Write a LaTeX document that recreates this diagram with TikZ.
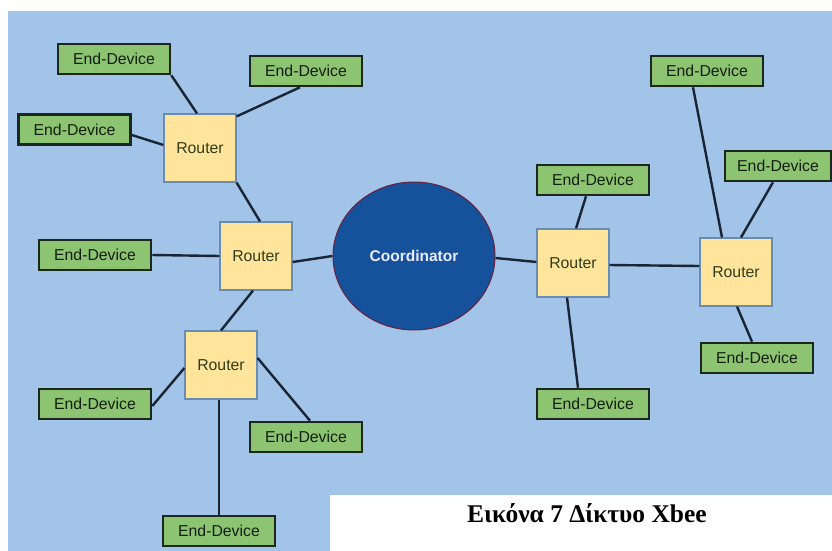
\documentclass[tikz,border=0pt]{standalone}
\usepackage{fontspec}
\setmainfont{Liberation Sans}
\newfontfamily\captionserif{Liberation Serif}
\usetikzlibrary{shapes.geometric}

\definecolor{skyback}{RGB}{161,196,232}
\definecolor{edfill}{RGB}{140,196,114}
\definecolor{edline}{RGB}{28,40,30}
\definecolor{edtext}{RGB}{20,30,16}
\definecolor{rtfill}{RGB}{255,228,156}
\definecolor{rtline}{RGB}{104,140,178}
\definecolor{rttext}{RGB}{48,60,26}
\definecolor{coordfill}{RGB}{22,82,156}
\definecolor{coordline}{RGB}{110,30,60}
\definecolor{linkcol}{RGB}{26,36,50}

\tikzset{
  enddev/.style={rectangle, draw=edline, line width=2.6pt, fill=edfill,
    minimum width=112pt, minimum height=30pt, inner sep=0pt,
    font=\fontsize{15.8}{15.8}\selectfont, text=edtext},
  routerbox/.style={rectangle, draw=rtline, line width=1.2pt, fill=rtfill,
    minimum width=72pt, minimum height=68pt, inner sep=0pt,
    font=\fontsize{15.8}{15.8}\selectfont, text=rttext},
  coordnode/.style={ellipse, draw=coordline, line width=1pt, fill=coordfill,
    minimum width=162pt, minimum height=148pt, inner sep=0pt,
    font=\bfseries\fontsize{15.5}{15.5}\selectfont, text=white!92!blue},
  link/.style={draw=linkcol, line width=2.4pt},
}

\begin{document}
\begin{tikzpicture}[x=1pt, y=-1pt]
  \useasboundingbox (0,0) rectangle (832,551);
  \fill[white] (0,0) rectangle (832,551);
  \fill[skyback] (8,11) rectangle (832,551);
  \fill[white] (330,495) rectangle (832,551);

  % coordinator
  \node[coordnode] (coord) at (414,256) {Coordinator};

  % routers
  \node[routerbox] (r1) at (200,148) {Router};
  \node[routerbox] (r2) at (256,256) {Router};
  \node[routerbox] (r3) at (221,365) {Router};
  \node[routerbox] (r4) at (573,263) {Router};
  \node[routerbox] (r5) at (736,272) {Router};

  % end devices
  \node[enddev] (ed1) at (114,59) {End-Device};
  \node[enddev] (ed2) at (306,71) {End-Device};
  \node[enddev] (ed3) at (74.5,129.5) {End-Device};
  \node[enddev] (ed4) at (95,255) {End-Device};
  \node[enddev] (ed5) at (95,404) {End-Device};
  \node[enddev] (ed6) at (306,437) {End-Device};
  \node[enddev] (ed7) at (219,531) {End-Device};
  \node[enddev] (ed8) at (593,180) {End-Device};
  \node[enddev] (ed9) at (707,71) {End-Device};
  \node[enddev, minimum width=106pt] (ed10) at (778,166) {End-Device};
  \node[enddev] (ed11) at (757,358) {End-Device};
  \node[enddev] (ed12) at (593,404) {End-Device};

  % links
  \draw[link] (ed1.south east) -- ([xshift=-3pt]r1.north);
  \draw[link] ([xshift=-6pt]ed2.south) -- ([yshift=-3pt]r1.north east);
  \draw[link] ([yshift=-5.5pt]ed3.east) -- ([yshift=3pt]r1.west);
  \draw[link] (r1.south east) -- ([xshift=4pt]r2.north);
  \draw[link] (ed4.east) -- (r2.west);
  \draw[link] ([yshift=-6pt]r2.east) -- (coord.west);
  \draw[link] ([xshift=-3pt]r2.south) -- (r3.north);
  \draw[link] ([yshift=-3pt]r3.west) -- ([yshift=-2pt]ed5.east);
  \draw[link] ([yshift=7pt]r3.east) -- ([xshift=4pt]ed6.north);
  \draw[link] ([xshift=-2pt]r3.south) -- (ed7.north);
  \draw[link] ([yshift=-2pt]coord.east) -- ([yshift=1pt]r4.west);
  \draw[link] ([xshift=-7pt]ed8.south) -- ([xshift=3pt]r4.north);
  \draw[link] ([yshift=-2pt]r4.east) -- ([yshift=6pt]r5.west);
  \draw[link] ([xshift=-14pt]ed9.south) -- ([xshift=-14pt]r5.north);
  \draw[link] ([xshift=-5pt]ed10.south) -- ([xshift=5pt]r5.north);
  \draw[link] ([xshift=1pt]r5.south) -- ([xshift=-5pt]ed11.north);
  \draw[link] ([xshift=-6pt]r4.south) -- ([xshift=-15pt]ed12.north);

  % caption
  \node[font=\captionserif\bfseries\fontsize{25.5}{25.5}\selectfont, inner sep=0pt]
    (cap) at (587,513) {Εικόνα 7 Δίκτυο Xbee};
\end{tikzpicture}
\end{document}
